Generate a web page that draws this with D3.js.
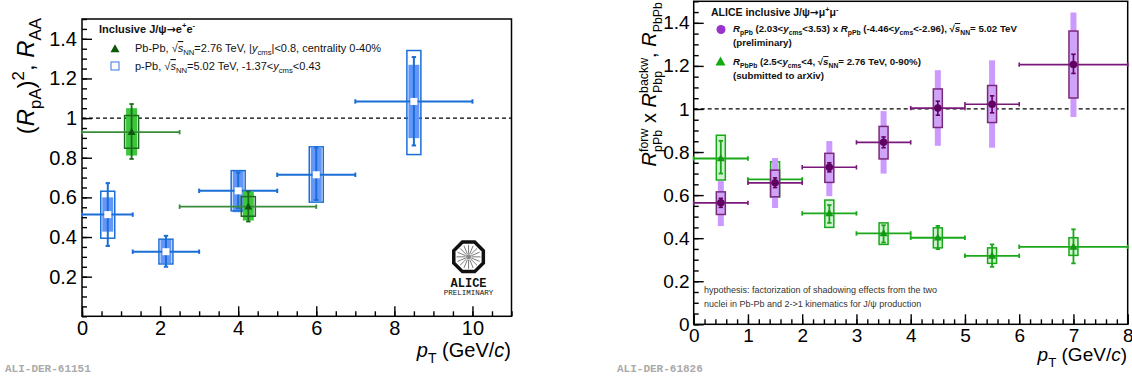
<!DOCTYPE html>
<html>
<head>
<meta charset="utf-8">
<script src="https://cdn.jsdelivr.net/npm/d3@7"></script>
<style>
  body { margin: 0; background: #fff; }
  svg { font-family: "Liberation Sans", Arial, sans-serif; }
</style>
</head>
<body>
<svg id="chart" width="1132" height="379"></svg>
<script>
// ---------- left panel : inclusive J/psi -> e+e-, mid-rapidity ----------
// p-Pb (R_pA)^2
var ppbPt     = [0.66, 2.15, 4.0, 6.0, 8.5];
var ppbLo     = [0, 1.3, 3, 5, 7];
var ppbHi     = [1.3, 3, 5, 7, 10];
var ppbVal    = [0.513, 0.326, 0.633, 0.714, 1.084];
var ppbStatHi = [0.672, 0.406, 0.725, 0.852, 1.308];
var ppbStatLo = [0.355, 0.250, 0.545, 0.587, 0.862];
var ppbSysHi  = [0.631, 0.389, 0.735, 0.855, 1.341];
var ppbSysLo  = [0.394, 0.264, 0.532, 0.576, 0.816];
var ppbCorHi  = [0.600, 0.385, 0.735, 0.850, 1.269];
var ppbCorLo  = [0.427, 0.268, 0.525, 0.580, 0.899];

// Pb-Pb R_AA, centrality 0-40%
var pbpbMidPt     = [1.27, 4.26];
var pbpbMidLo     = [0, 2.5];
var pbpbMidHi     = [2.5, 6];
var pbpbMidVal    = [0.929, 0.553];
var pbpbMidStatHi = [1.071, 0.630];
var pbpbMidStatLo = [0.794, 0.478];
var pbpbMidSysHi  = [1.013, 0.604];
var pbpbMidSysLo  = [0.848, 0.505];
var pbpbMidCorHi  = [1.050, 0.630];
var pbpbMidCorLo  = [0.811, 0.483];

var leftXTicks = [0, 2, 4, 6, 8, 10];
var leftYTicks = [0.2, 0.4, 0.6, 0.8, 1, 1.2, 1.4];

// ---------- right panel : inclusive J/psi -> mu+mu-, forward ----------
// R_pPb(forw) x R_Pbp(backw)
var prodPt     = [0.5, 1.5, 2.5, 3.5, 4.5, 5.5, 7];
var prodLo     = [0, 1, 2, 3, 4, 5, 6];
var prodHi     = [1, 2, 3, 4, 5, 6, 8];
var prodVal    = [0.564, 0.657, 0.729, 0.845, 1.004, 1.022, 1.206];
var prodStatHi = [0.585, 0.680, 0.750, 0.870, 1.036, 1.061, 1.254];
var prodStatLo = [0.543, 0.635, 0.708, 0.820, 0.971, 0.982, 1.165];
var prodSysHi  = [0.615, 0.716, 0.794, 0.919, 1.093, 1.109, 1.362];
var prodSysLo  = [0.510, 0.592, 0.659, 0.768, 0.914, 0.937, 1.051];
var prodCorHi  = [0.665, 0.772, 0.851, 0.990, 1.180, 1.226, 1.448];
var prodCorLo  = [0.456, 0.540, 0.595, 0.700, 0.829, 0.820, 0.963];

// R_PbPb, 2.5<y<4, 0-90%
var pbpbFwdPt     = [0.5, 1.5, 2.5, 3.5, 4.5, 5.5, 7];
var pbpbFwdLo     = [0, 1, 2, 3, 4, 5, 6];
var pbpbFwdHi     = [1, 2, 3, 4, 5, 6, 8];
var pbpbFwdVal    = [0.770, 0.673, 0.515, 0.422, 0.402, 0.318, 0.360];
var pbpbFwdStatHi = [0.852, 0.690, 0.554, 0.460, 0.457, 0.371, 0.441];
var pbpbFwdStatLo = [0.700, 0.655, 0.471, 0.380, 0.349, 0.267, 0.283];
var pbpbFwdSysHi  = [0.878, 0.755, 0.577, 0.471, 0.448, 0.355, 0.402];
var pbpbFwdSysLo  = [0.670, 0.592, 0.450, 0.371, 0.355, 0.283, 0.320];

var rightXTicks = [0, 1, 2, 3, 4, 5, 6, 7, 8];
var rightYTicks = [0, 0.2, 0.4, 0.6, 0.8, 1, 1.2, 1.4];

var svg = d3.select("#chart");

// scales
var xL = d3.scaleLinear().domain([0, 11]).range([82, 511.5]);
var yL = d3.scaleLinear().domain([0, 1.5]).range([316.3, 19]);
var xR = d3.scaleLinear().domain([0, 8]).range([693.7, 1127.7]);
var yR = d3.scaleLinear().domain([0, 1.5]).range([324.3, 1.3]);

// text with sub/superscripts, parts: {t, it, ov, sym} | {sub} | {sup} | {sup, sub}
function rich(text, parts, fs, sc) {
  sc = sc || 0.7;
  var cur = 0, extra = 0;
  parts.forEach(function(p) {
    var ts;
    if (p.sup !== undefined && p.sub !== undefined) {
      var up = text.append("tspan").text(p.sup).attr("font-size", fs * sc)
        .attr("dy", -fs * 0.42 - cur);
      if (extra) up.attr("dx", extra);
      var w1 = up.node().getComputedTextLength();
      var dn = text.append("tspan").text(p.sub).attr("font-size", fs * sc)
        .attr("dx", -w1).attr("dy", fs * 0.72);
      var w2 = dn.node().getComputedTextLength();
      cur = fs * 0.3;
      extra = Math.max(0, w1 - w2);
      return;
    }
    var target = 0, size = fs, str = p.t;
    if (p.sub !== undefined) { target = fs * 0.3; size = fs * sc; str = p.sub; }
    if (p.sup !== undefined) { target = -fs * 0.42; size = fs * sc; str = p.sup; }
    ts = text.append("tspan").text(str).attr("font-size", size).attr("dy", target - cur);
    if (extra) ts.attr("dx", extra);
    if (p.it) ts.attr("font-style", "italic");
    if (p.ov) ts.attr("text-decoration", "overline");
    if (p.sym) ts.attr("font-family", "DejaVu Sans, sans-serif");
    cur = target;
    extra = 0;
  });
}

function frame(g, x, y, xt, yt, xMinorStep, yMinorStep, fsTick, pad) {
  var x0 = x.range()[0], x1 = x.range()[1], y0 = y.range()[0], y1 = y.range()[1];
  var xd = x.domain(), yd = y.domain();
  var minorX = d3.range(xd[0], xd[1] + 1e-6, xMinorStep);
  var minorY = d3.range(yd[0], yd[1] + 1e-6, yMinorStep);

  function clean(a) {
    a.select(".domain").remove();
    a.selectAll("line").attr("stroke", "#000").attr("stroke-width", 1.4);
    a.selectAll("text").attr("font-size", fsTick).attr("font-family", "Liberation Sans, Arial, sans-serif").attr("fill", "#000");
  }
  g.append("g").attr("transform", "translate(0," + y0 + ")")
    .call(d3.axisBottom(x).tickValues(minorX).tickSize(-5).tickFormat("")).call(clean);
  g.append("g").attr("transform", "translate(0," + y0 + ")")
    .call(d3.axisBottom(x).tickValues(xt).tickSize(-10).tickPadding(pad).tickFormat(d3.format("~g"))).call(clean);
  g.append("g").attr("transform", "translate(" + x0 + ",0)")
    .call(d3.axisLeft(y).tickValues(minorY).tickSize(-5).tickFormat("")).call(clean);
  g.append("g").attr("transform", "translate(" + x0 + ",0)")
    .call(d3.axisLeft(y).tickValues(yt).tickSize(-10).tickPadding(pad).tickFormat(d3.format("~g"))).call(clean);

  g.append("rect").attr("x", x0).attr("y", y1).attr("width", x1 - x0).attr("height", y0 - y1)
    .attr("fill", "none").attr("stroke", "#000").attr("stroke-width", 1.5);
  // unity reference
  g.append("line").attr("x1", x0).attr("x2", x1).attr("y1", y(1)).attr("y2", y(1))
    .attr("stroke", "#000").attr("stroke-width", 1.2).attr("stroke-dasharray", "4,3");
}

function marker(sel, type, size) {
  if (type === "tri") {
    var h = size * 0.9;
    return sel.append("path").attr("d", "M0," + (-h * 0.6) + "L" + (size / 2) + "," + (h * 0.4) + "L" + (-size / 2) + "," + (h * 0.4) + "Z");
  }
  if (type === "sq") {
    return sel.append("rect").attr("x", -size / 2).attr("y", -size / 2).attr("width", size).attr("height", size);
  }
  return sel.append("circle").attr("r", size / 2);
}

function drawSeries(g, x, y, s) {
  var rows = s.pt.map(function(p, i) {
    return {p: p, lo: s.lo[i], hi: s.hi[i], v: s.val[i],
            sh: s.statHi[i], sl: s.statLo[i], yh: s.sysHi[i], yl: s.sysLo[i],
            ch: s.corHi ? s.corHi[i] : null, cl: s.corLo ? s.corLo[i] : null};
  });
  var gg = g.append("g");
  var cap = 2.2;

  if (s.corHi) {
    gg.selectAll("rect.cor").data(rows).join("rect").attr("class", "cor")
      .attr("x", function(d) { return x(d.p) - s.corW / 2; })
      .attr("width", s.corW)
      .attr("y", function(d) { return y(d.ch); })
      .attr("height", function(d) { return y(d.cl) - y(d.ch); })
      .attr("fill", s.corFill);
  }
  gg.selectAll("rect.sys").data(rows).join("rect").attr("class", "sys")
    .attr("x", function(d) { return x(d.p) - s.sysW / 2; })
    .attr("width", s.sysW)
    .attr("y", function(d) { return y(d.yh); })
    .attr("height", function(d) { return y(d.yl) - y(d.yh); })
    .attr("fill", s.sysFill).attr("stroke", s.sysStroke).attr("stroke-width", 1.5);

  // horizontal bin width bars with end caps
  gg.selectAll("line.bin").data(rows).join("line").attr("class", "bin")
    .attr("x1", function(d) { return x(d.lo); }).attr("x2", function(d) { return x(d.hi); })
    .attr("y1", function(d) { return y(d.v); }).attr("y2", function(d) { return y(d.v); })
    .attr("stroke", s.line).attr("stroke-width", s.lw);
  ["lo", "hi"].forEach(function(k) {
    gg.selectAll("line.cap" + k).data(rows).join("line").attr("class", "cap" + k)
      .attr("x1", function(d) { return x(d[k]); }).attr("x2", function(d) { return x(d[k]); })
      .attr("y1", function(d) { return y(d.v) - cap; }).attr("y2", function(d) { return y(d.v) + cap; })
      .attr("stroke", s.line).attr("stroke-width", s.lw);
  });

  // statistical error bars
  gg.selectAll("line.stat").data(rows).join("line").attr("class", "stat")
    .attr("x1", function(d) { return x(d.p); }).attr("x2", function(d) { return x(d.p); })
    .attr("y1", function(d) { return y(d.sh); }).attr("y2", function(d) { return y(d.sl); })
    .attr("stroke", s.stat).attr("stroke-width", s.lw);
  ["sh", "sl"].forEach(function(k) {
    gg.selectAll("line.t" + k).data(rows).join("line").attr("class", "t" + k)
      .attr("x1", function(d) { return x(d.p) - cap; }).attr("x2", function(d) { return x(d.p) + cap; })
      .attr("y1", function(d) { return y(d[k]); }).attr("y2", function(d) { return y(d[k]); })
      .attr("stroke", s.stat).attr("stroke-width", s.lw);
  });

  rows.forEach(function(d) {
    var m = gg.append("g").attr("transform", "translate(" + x(d.p) + "," + y(d.v) + ")");
    marker(m, s.marker, s.msize).attr("fill", s.mfill);
  });
}

// ================= LEFT PANEL =================
var gl = svg.append("g");
frame(gl, xL, yL, leftXTicks, leftYTicks, 0.5, 0.05, 20, 5);

drawSeries(gl, xL, yL, {
  pt: ppbPt, lo: ppbLo, hi: ppbHi, val: ppbVal, statHi: ppbStatHi, statLo: ppbStatLo,
  sysHi: ppbSysHi, sysLo: ppbSysLo, corHi: ppbCorHi, corLo: ppbCorLo,
  corW: 11, corFill: "#6496fa", sysW: 14, sysFill: "none", sysStroke: "#1a6fd6",
  line: "#1a6fd6", stat: "#1a6fd6", lw: 2, marker: "sq", msize: 7, mfill: "#fff"
});
drawSeries(gl, xL, yL, {
  pt: pbpbMidPt, lo: pbpbMidLo, hi: pbpbMidHi, val: pbpbMidVal,
  statHi: pbpbMidStatHi, statLo: pbpbMidStatLo, sysHi: pbpbMidSysHi, sysLo: pbpbMidSysLo,
  corHi: pbpbMidCorHi, corLo: pbpbMidCorLo,
  corW: 11, corFill: "#3cc83c", sysW: 14, sysFill: "none", sysStroke: "#1e6a1e",
  line: "#3a8c3a", stat: "#1e6a1e", lw: 1.8, marker: "tri", msize: 8, mfill: "#0b5a0b"
});

// legend
var lg = gl.append("g");
rich(lg.append("text").attr("x", 99).attr("y", 33).attr("font-weight", "bold").attr("fill", "#111"),
  [{t: "Inclusive J/ψ"}, {t: "→", sym: 1}, {t: "e"}, {sup: "+"}, {t: "e"}, {sup: "-"}], 11);
marker(lg.append("g").attr("transform", "translate(115,49)"), "tri", 9).attr("fill", "#0b5a0b");
rich(lg.append("text").attr("x", 135).attr("y", 52).attr("fill", "#111"),
  [{t: "Pb-Pb, √"}, {t: "s", it: 1, ov: 1}, {sub: "NN"}, {t: "=2.76 TeV, |"}, {t: "y", it: 1},
   {sub: "cms"}, {t: "|<0.8, centrality 0-40%"}], 11);
lg.append("rect").attr("x", 111).attr("y", 62).attr("width", 8).attr("height", 8)
  .attr("fill", "#fff").attr("stroke", "#5b8ee8").attr("stroke-width", 1.2);
rich(lg.append("text").attr("x", 135).attr("y", 70).attr("fill", "#111"),
  [{t: "p-Pb, √"}, {t: "s", it: 1, ov: 1}, {sub: "NN"}, {t: "=5.02 TeV, -1.37<"}, {t: "y", it: 1},
   {sub: "cms"}, {t: "<0.43"}], 11);

// axis titles
rich(gl.append("text").attr("transform", "translate(34,18) rotate(-90)").attr("text-anchor", "end"),
  [{t: "("}, {t: "R", it: 1}, {sub: "pA"}, {t: ")"}, {sup: "2"}, {t: ", "}, {t: "R", it: 1}, {sub: "AA"}], 24);
rich(gl.append("text").attr("x", 511).attr("y", 357).attr("text-anchor", "end"),
  [{t: "p", it: 1}, {sub: "T"}, {t: " (GeV/"}, {t: "c", it: 1}, {t: ")"}], 20);

// ALICE preliminary logo
var logo = gl.append("g").attr("transform", "translate(" + xL(9.9) + "," + yL(0.3) + ")");
var oct = d3.range(8).map(function(i) {
  var a = Math.PI / 8 + i * Math.PI / 4;
  return [16 * Math.cos(a), 16 * Math.sin(a)];
});
logo.append("path").attr("d", "M" + oct.join("L") + "Z").attr("fill", "#fff")
  .attr("stroke", "#111").attr("stroke-width", 3.5);
d3.range(16).forEach(function(i) {
  var a = i * Math.PI / 8;
  logo.append("line").attr("x1", 3 * Math.cos(a)).attr("y1", 3 * Math.sin(a))
    .attr("x2", 12 * Math.cos(a)).attr("y2", 12 * Math.sin(a))
    .attr("stroke", "#444").attr("stroke-width", 0.7);
});
logo.append("circle").attr("r", 2.5).attr("fill", "#888");
logo.append("text").attr("y", 30).attr("text-anchor", "middle").attr("font-family", "Liberation Mono, monospace")
  .attr("font-size", 12).attr("font-weight", "bold").attr("fill", "#111").text("ALICE");
logo.append("text").attr("y", 38).attr("text-anchor", "middle").attr("font-family", "Liberation Mono, monospace")
  .attr("font-size", 7.5).attr("fill", "#111").text("PRELIMINARY");

svg.append("text").attr("x", 5).attr("y", 372).attr("font-family", "Liberation Mono, monospace")
  .attr("font-size", 11).attr("font-weight", "bold").attr("fill", "#aaa").text("ALI-DER-61151");

// ================= RIGHT PANEL =================
var gr = svg.append("g");
frame(gr, xR, yR, rightXTicks, rightYTicks, 0.2, 0.05, 19, 4);

drawSeries(gr, xR, yR, {
  pt: pbpbFwdPt, lo: pbpbFwdLo, hi: pbpbFwdHi, val: pbpbFwdVal,
  statHi: pbpbFwdStatHi, statLo: pbpbFwdStatLo, sysHi: pbpbFwdSysHi, sysLo: pbpbFwdSysLo,
  sysW: 9, sysFill: "#d2f3d2", sysStroke: "#1aa81a",
  line: "#1aa81a", stat: "#1aa81a", lw: 1.8, marker: "tri", msize: 8, mfill: "#119911"
});
drawSeries(gr, xR, yR, {
  pt: prodPt, lo: prodLo, hi: prodHi, val: prodVal, statHi: prodStatHi, statLo: prodStatLo,
  sysHi: prodSysHi, sysLo: prodSysLo, corHi: prodCorHi, corLo: prodCorLo,
  corW: 6, corFill: "#cc99ff", sysW: 9, sysFill: "#cfa3f7", sysStroke: "#7a2a7a",
  line: "#781878", stat: "#600060", lw: 1.6, marker: "circ", msize: 7.5, mfill: "#600060"
});

// legend (bold)
var rg = gr.append("g").attr("font-weight", "bold").attr("fill", "#111");
rich(rg.append("text").attr("x", 711).attr("y", 16),
  [{t: "ALICE inclusive J/ψ"}, {t: "→", sym: 1}, {t: "μ"}, {sup: "+"}, {t: "μ"}, {sup: "-"}], 10.5);
rg.append("circle").attr("cx", 721).attr("cy", 29.5).attr("r", 4.5).attr("fill", "#9933cc");
rich(rg.append("text").attr("x", 733).attr("y", 32),
  [{t: "R", it: 1}, {sub: "pPb"}, {t: " (2.03<"}, {t: "y", it: 1}, {sub: "cms"}, {t: "<3.53) x  "},
   {t: "R", it: 1}, {sub: "pPb"}, {t: " (-4.46<"}, {t: "y", it: 1}, {sub: "cms"}, {t: "<-2.96), √"},
   {t: "s", it: 1, ov: 1}, {sub: "NN"}, {t: "= 5.02 TeV"}], 9.7);
rg.append("text").attr("x", 733).attr("y", 46).attr("font-size", 9.7).text("(preliminary)");
marker(rg.append("g").attr("transform", "translate(720.5,62)"), "tri", 10).attr("fill", "#11aa11");
rich(rg.append("text").attr("x", 733).attr("y", 65),
  [{t: "R", it: 1}, {sub: "PbPb"}, {t: " (2.5<"}, {t: "y", it: 1}, {sub: "cms"}, {t: "<4, √"},
   {t: "s", it: 1, ov: 1}, {sub: "NN"}, {t: "= 2.76 TeV, 0-90%)"}], 9.7);
rg.append("text").attr("x", 733).attr("y", 79).attr("font-size", 9.7).text("(submitted to arXiv)");

var note = gr.append("g").attr("font-size", 9).attr("fill", "#333");
note.append("text").attr("x", 704).attr("y", 293).text("hypothesis: factorization of shadowing effects from the two");
note.append("text").attr("x", 704).attr("y", 307).text("nuclei in Pb-Pb and 2->1 kinematics for J/ψ production");

// axis titles
rich(gr.append("text").attr("transform", "translate(656,2) rotate(-90)").attr("text-anchor", "end"),
  [{t: "R", it: 1}, {sup: "forw", sub: "pPb"}, {t: " x "}, {t: "R", it: 1}, {sup: "backw", sub: "Pbp"},
   {t: ", "}, {t: "R", it: 1}, {sub: "PbPb"}], 20, 0.62);
rich(gr.append("text").attr("x", 1127).attr("y", 361).attr("text-anchor", "end"),
  [{t: "p", it: 1}, {sub: "T"}, {t: " (GeV/"}, {t: "c", it: 1}, {t: ")"}], 19);

svg.append("text").attr("x", 617).attr("y", 372).attr("font-family", "Liberation Mono, monospace")
  .attr("font-size", 11).attr("font-weight", "bold").attr("fill", "#aaa").text("ALI-DER-61826");
</script>
</body>
</html>
